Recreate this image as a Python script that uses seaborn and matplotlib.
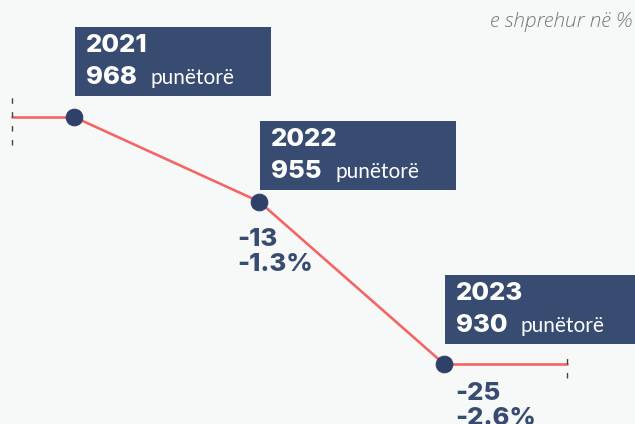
import numpy as np
import pandas as pd
import matplotlib.pyplot as plt
import matplotlib.patches as mpatches
from matplotlib.lines import Line2D
from matplotlib.transforms import IdentityTransform
import seaborn as sns

# data
years = ['2021', '2022', '2023']
workers = [968, 955, 930]
change_abs = ['', '-13', '-25']
change_pct = ['', '-1.3%', '-2.6%']
unit_label = 'punëtorë'
note = 'e shprehur në %'

NAVY = '#384b71'
DOT = '#2f4069'
RED = '#f26666'
BG = '#f7f9f9'

sns.set_style('white')
plt.rcParams['font.family'] = ['Lato', 'DejaVu Sans']
BOLD_FONT = ['Inter', 'DejaVu Sans']

df = pd.DataFrame({'pos': np.arange(len(years)), 'workers': workers})

fig = plt.figure(figsize=(6.35, 4.24), dpi=100, facecolor=BG)
ax = fig.add_axes([0, 0, 1, 1])
ax.set_facecolor(BG)

# short flat stubs before the first and after the last year
ax.plot([-0.335, 0], [workers[0]] * 2, color=RED, lw=1.9, zorder=2)
ax.plot([2, 2.665], [workers[-1]] * 2, color=RED, lw=1.9, zorder=2)
sns.lineplot(data=df, x='pos', y='workers', color=RED, lw=1.9, marker='o',
             markersize=12, markerfacecolor=DOT, markeredgecolor=DOT,
             ax=ax, zorder=3)

ax.set_xlim(-0.4, 3.032)
ax.set_ylim(920.77, 986)
ax.set_autoscale_on(False)
ax.axis('off')

ident = IdentityTransform()

# dashed end ticks
for xv, yv, up, down in [(-0.335, workers[0], 22, 28), (2.665, workers[-1], 12, 14)]:
    px, py = ax.transData.transform((xv, yv))
    fig.add_artist(Line2D([px, px], [py - down, py + up], color='#444444', lw=1,
                          linestyle=(0, (4, 6)), transform=ident))

box_gap = [21, 12, 20]
chg_dx = [0, -22, 11]
chg_dy = [0, 44, 36]

for i, yr in enumerate(years):
    px, py = ax.transData.transform((i, workers[i]))
    bx = px + 1
    bb = py + box_gap[i]
    fig.add_artist(mpatches.Rectangle((bx, bb), 196, 69, facecolor=NAVY,
                                      edgecolor='none', transform=ident, zorder=4))
    fig.text(bx + 11, bb + 44, yr, transform=ident, color='white', fontsize=18.5,
             family=BOLD_FONT, fontweight='heavy', va='baseline', ha='left', zorder=5)
    fig.text(bx + 11, bb + 12, str(workers[i]), transform=ident, color='white',
             fontsize=18.5, family=BOLD_FONT, fontweight='heavy', va='baseline',
             ha='left', zorder=5)
    fig.text(bx + 75, bb + 12, unit_label, transform=ident, color='white',
             fontsize=15, fontweight='normal', va='baseline', ha='left', zorder=5)
    if change_abs[i]:
        fig.text(px + chg_dx[i], py - chg_dy[i], change_abs[i], transform=ident,
                 color=NAVY, fontsize=18.5, family=BOLD_FONT, fontweight='heavy',
                 va='baseline', ha='left')
        fig.text(px + chg_dx[i], py - chg_dy[i] - 25, change_pct[i], transform=ident,
                 color=NAVY, fontsize=18.5, family=BOLD_FONT, fontweight='heavy',
                 va='baseline', ha='left')

fig.text(632, 397, note, transform=ident, color='#777777', fontsize=15,
         family=['Open Sans', 'DejaVu Sans'], fontstyle='italic',
         fontweight='light', ha='right', va='baseline')

fig.savefig('out.png', dpi=100, facecolor=BG)
